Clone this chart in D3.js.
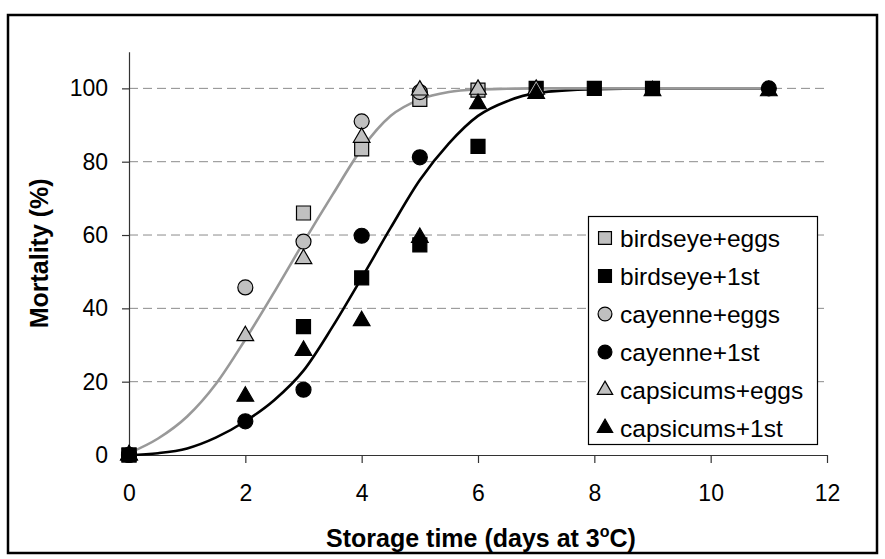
<!DOCTYPE html>
<html>
<head>
<meta charset="utf-8">
<script src="https://cdn.jsdelivr.net/npm/d3@7"></script>
<style>
	body { margin: 0; background: #fff; }
	svg { display: block; font-family: "Liberation Sans", Arial, sans-serif; }
</style>
</head>
<body>
<div id="chart"></div>
<script>
// observed points, one pair of arrays per series (days, mortality %)
var birdseyeEggsDays = [0, 3, 4, 5, 6];
var birdseyeEggs     = [0, 66, 83.5, 97, 99.5];
var birdseyeFirstDays = [0, 3, 4, 5, 6, 7, 8, 9];
var birdseyeFirst     = [0, 35, 48.3, 57.3, 84.2, 100, 100, 100];
var cayenneEggsDays = [0, 2, 3, 4, 5];
var cayenneEggs     = [0, 45.7, 58.2, 91, 99];
var cayenneFirstDays = [0, 2, 3, 4, 5, 11];
var cayenneFirst     = [0, 9.2, 17.8, 59.8, 81.2, 100];
var capsicumsEggsDays = [0, 2, 3, 4, 5, 6, 7];
var capsicumsEggs     = [0, 32.5, 53.5, 86.6, 99.5, 99.7, 99.7];
var capsicumsFirstDays = [0, 2, 3, 4, 5, 6, 7, 9, 11];
var capsicumsFirst     = [0, 16, 28.5, 36.6, 59.3, 95.8, 98.6, 99.3, 99.3];

// fitted curves
var fitDays  = [0, 0.5, 1, 1.5, 2, 2.5, 3, 3.5, 4, 4.5, 5, 5.5, 6, 6.5, 7, 8, 9, 10, 11];
var eggsFit  = [0.5, 4.5, 10.5, 19.5, 31.5, 44.5, 58, 71, 83.5, 92.5, 97, 99, 99.7, 99.9, 100, 100, 100, 100, 100];
var firstFit = [0, 0.5, 1.8, 4.8, 9.2, 15, 23, 35, 48.3, 62, 75, 85, 92.5, 96.5, 98.7, 99.8, 100, 100, 100];

var xTicks = [0, 2, 4, 6, 8, 10, 12];
var yTicks = [0, 20, 40, 60, 80, 100];

var series = [
	{ name: "birdseye+eggs",   days: birdseyeEggsDays,   values: birdseyeEggs,   symbol: d3.symbolSquare,   size: 196, fill: "#c0c0c0" },
	{ name: "birdseye+1st",    days: birdseyeFirstDays,  values: birdseyeFirst,  symbol: d3.symbolSquare,   size: 196, fill: "#000" },
	{ name: "cayenne+eggs",    days: cayenneEggsDays,    values: cayenneEggs,    symbol: d3.symbolCircle,   size: 177, fill: "#c0c0c0" },
	{ name: "cayenne+1st",     days: cayenneFirstDays,   values: cayenneFirst,   symbol: d3.symbolCircle,   size: 177, fill: "#000" },
	{ name: "capsicums+eggs",  days: capsicumsEggsDays,  values: capsicumsEggs,  symbol: d3.symbolTriangle, size: 120, fill: "#c0c0c0" },
	{ name: "capsicums+1st",   days: capsicumsFirstDays, values: capsicumsFirst, symbol: d3.symbolTriangle, size: 120, fill: "#000" }
];

var width = 885, height = 559;
var tickFont = 23, legendFont = 24.5, titleFont = 25;

var svg = d3.select("#chart").append("svg")
	.attr("width", width)
	.attr("height", height);

// outer chart border
svg.append("rect")
	.attr("x", 8).attr("y", 15)
	.attr("width", 869).attr("height", 538)
	.attr("fill", "#fff")
	.attr("stroke", "#000")
	.attr("stroke-width", 2.5);

var x = d3.scaleLinear().domain([0, 12]).range([129, 827]);
var y = d3.scaleLinear().domain([0, 110]).range([455, 51.7]);

// dashed gridlines
svg.append("g").selectAll("line")
	.data(yTicks.filter(function(t) { return t > 0; })).enter()
	.append("line")
		.attr("x1", x(0)).attr("x2", x(12))
		.attr("y1", function(t) { return y(t); })
		.attr("y2", function(t) { return y(t); })
		.attr("stroke", "#8c8c8c")
		.attr("stroke-width", 1)
		.attr("stroke-dasharray", "9,5");

// axes
var xAxis = svg.append("g")
	.attr("transform", "translate(0," + y(0) + ")")
	.call(d3.axisBottom(x).tickValues(xTicks).tickSize(8).tickSizeOuter(0).tickPadding(22));
var yAxis = svg.append("g")
	.attr("transform", "translate(" + x(0) + ",0)")
	.call(d3.axisLeft(y).tickValues(yTicks).tickSize(7).tickSizeOuter(0).tickPadding(14));

[xAxis, yAxis].forEach(function(g) {
	g.select(".domain").attr("stroke", "#333").attr("stroke-width", 1.2);
	g.selectAll(".tick line").attr("stroke", "#333").attr("stroke-width", 1.2);
	g.selectAll(".tick text")
		.attr("fill", "#000")
		.style("font-family", "'Liberation Sans', Arial, sans-serif")
		.style("font-size", tickFont + "px");
});

// fitted curves
var line = d3.line()
	.x(function(d) { return x(d[0]); })
	.y(function(d) { return y(d[1]); })
	.curve(d3.curveMonotoneX);

svg.append("path")
	.datum(fitDays.map(function(d, i) { return [d, firstFit[i]]; }))
	.attr("d", line)
	.attr("fill", "none")
	.attr("stroke", "#000")
	.attr("stroke-width", 2.6);

svg.append("path")
	.datum(fitDays.map(function(d, i) { return [d, eggsFit[i]]; }))
	.attr("d", line)
	.attr("fill", "none")
	.attr("stroke", "#999")
	.attr("stroke-width", 2.6);

// markers, in series order so later series sit on top
series.forEach(function(s) {
	svg.append("g").selectAll("path")
		.data(s.days.map(function(d, i) { return [d, s.values[i]]; })).enter()
		.append("path")
			.attr("d", d3.symbol().type(s.symbol).size(s.size))
			.attr("transform", function(d) {
				return "translate(" + x(d[0]) + "," + y(d[1]) + ")";
			})
			.attr("fill", s.fill)
			.attr("stroke", "#000")
			.attr("stroke-width", 1.2);
});

// legend
var legend = svg.append("g");
legend.append("rect")
	.attr("x", 588.5).attr("y", 216.5)
	.attr("width", 229).attr("height", 228)
	.attr("fill", "#fff")
	.attr("stroke", "#000")
	.attr("stroke-width", 1.2);

var rowY = d3.scalePoint().domain(series.map(function(s) { return s.name; })).range([238, 428]);

var rows = legend.selectAll(".lg-row")
	.data(series).enter()
	.append("g")
		.attr("class", "lg-row")
		.attr("transform", function(s) { return "translate(605," + rowY(s.name) + ")"; });
rows.append("path")
	.attr("d", function(s) { return d3.symbol().type(s.symbol).size(s.size * 0.85)(); })
	.attr("fill", function(s) { return s.fill; })
	.attr("stroke", "#000")
	.attr("stroke-width", 1.2);
rows.append("text")
	.attr("x", 15)
	.attr("dy", "0.35em")
	.style("font-size", legendFont + "px")
	.text(function(s) { return s.name; });

// axis titles
svg.append("text")
	.attr("transform", "translate(39," + ((y(0) + y(110)) / 2) + ") rotate(-90)")
	.attr("text-anchor", "middle")
	.attr("dy", "0.35em")
	.style("font-size", titleFont + "px")
	.style("font-weight", "bold")
	.text("Mortality (%)");

var xTitle = svg.append("text")
	.attr("x", (x(0) + x(12)) / 2 + 3)
	.attr("y", 538)
	.attr("text-anchor", "middle")
	.attr("dy", "0.35em")
	.style("font-size", titleFont + "px")
	.style("font-weight", "bold");
xTitle.append("tspan").text("Storage time (days at 3");
xTitle.append("tspan").attr("dy", "-10px").style("font-size", "16px").text("o");
xTitle.append("tspan").attr("dy", "10px").text("C)");
</script>
</body>
</html>
